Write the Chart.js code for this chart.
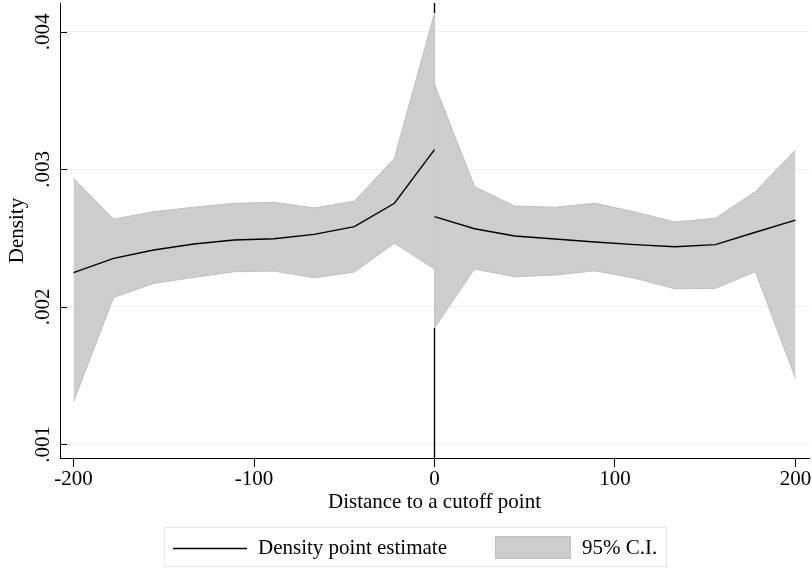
<!DOCTYPE html>
<html>
<head>
<meta charset="utf-8">
<script src="https://cdn.jsdelivr.net/npm/chart.js@4.4.0/dist/chart.umd.min.js"></script>
<style>
html, body { margin: 0; padding: 0; background: #fff; }
</style>
</head>
<body>
<canvas id="myChart" width="812" height="569"></canvas>
<script>
// data
var xLeft = [-200, -177.8, -155.6, -133.3, -111.1, -88.9, -66.7, -44.4, -22.2, 0];
var xRight = [0, 22.2, 44.4, 66.7, 88.9, 111.1, 133.3, 155.6, 177.8, 200];

var densLeft = [0.002248, 0.002352, 0.002413, 0.002457, 0.002486, 0.002495, 0.002527, 0.002583, 0.002753, 0.003143];
var upperLeft = [0.002935, 0.002637, 0.002692, 0.002724, 0.002753, 0.002760, 0.002719, 0.002768, 0.003081, 0.004137];
var lowerLeft = [0.001308, 0.002068, 0.002170, 0.002214, 0.002255, 0.002260, 0.002211, 0.002253, 0.002462, 0.002275];

var densRight = [0.002656, 0.002568, 0.002515, 0.002493, 0.002471, 0.002452, 0.002437, 0.002452, 0.002542, 0.002631];
var upperRight = [0.003620, 0.002874, 0.002733, 0.002724, 0.002753, 0.002690, 0.002617, 0.002644, 0.002838, 0.003141];
var lowerRight = [0.001847, 0.002275, 0.002218, 0.002231, 0.002262, 0.002207, 0.002131, 0.002134, 0.002255, 0.001479];

var xTicks = [-200, -100, 0, 100, 200];
var yTicks = [0.001, 0.002, 0.003, 0.004];

var X_MIN = -207.5, X_MAX = 207.5;
var Y_MIN = 0.0009, Y_MAX = 0.00421;

var FONT = "'Liberation Serif', 'Times New Roman', serif";
var FSIZE = 21;
var FILL = '#cdcdcd';
var EDGE = '#bfbfbf';

function pts(xs, ys) {
  var out = [];
  for (var i = 0; i < xs.length; i++) out.push({x: xs[i], y: ys[i]});
  return out;
}

// the cutoff line only shows where the band does not cover it
var bandLow = Math.min(lowerLeft[lowerLeft.length - 1], lowerRight[0]);
var bandHigh = Math.max(upperLeft[upperLeft.length - 1], upperRight[0]);

function lineSet(data, color, width) {
  return {
    data: data,
    borderColor: color,
    borderWidth: width,
    pointRadius: 0,
    fill: false,
    tension: 0
  };
}

var datasets = [
  lineSet(pts(xLeft, densLeft), '#000', 1.4),
  lineSet(pts(xRight, densRight), '#000', 1.4),
  lineSet(pts(xLeft, upperLeft), EDGE, 1),
  Object.assign(lineSet(pts(xLeft, lowerLeft), EDGE, 1), {fill: '-1', backgroundColor: FILL}),
  lineSet(pts(xRight, upperRight), EDGE, 1),
  Object.assign(lineSet(pts(xRight, lowerRight), EDGE, 1), {fill: '-1', backgroundColor: FILL}),
  lineSet([{x: 0, y: bandLow}, {x: 0, y: bandHigh}], EDGE, 1),
  lineSet([{x: 0, y: Y_MIN}, {x: 0, y: bandLow}], '#000', 1.4),
  lineSet([{x: 0, y: bandHigh}, {x: 0, y: Y_MAX}], '#000', 1.4)
];

// short ticks pointing into the plot on the y axis
var innerTicks = {
  id: 'innerTicks',
  afterDraw: function(chart) {
    var ctx = chart.ctx, y = chart.scales.y, a = chart.chartArea;
    ctx.save();
    ctx.strokeStyle = '#000';
    ctx.lineWidth = 1;
    yTicks.forEach(function(v) {
      var p = Math.round(y.getPixelForValue(v)) + 0.5;
      ctx.beginPath();
      ctx.moveTo(a.left, p);
      ctx.lineTo(a.left + 7, p);
      ctx.stroke();
    });
    ctx.restore();
  }
};

var boxLegend = {
  id: 'boxLegend',
  afterDraw: function(chart) {
    var ctx = chart.ctx;
    ctx.save();
    ctx.strokeStyle = '#e1e8eb';
    ctx.lineWidth = 1;
    ctx.strokeRect(164.5, 527.5, 502, 39);

    ctx.strokeStyle = '#000';
    ctx.lineWidth = 1.4;
    ctx.beginPath();
    ctx.moveTo(173, 548.5);
    ctx.lineTo(247, 548.5);
    ctx.stroke();

    ctx.fillStyle = FILL;
    ctx.fillRect(495.5, 536.5, 75, 22);
    ctx.strokeStyle = EDGE;
    ctx.lineWidth = 1;
    ctx.strokeRect(495.5, 536.5, 75, 22);

    ctx.fillStyle = '#000';
    ctx.font = FSIZE + 'px ' + FONT;
    ctx.textBaseline = 'middle';
    ctx.textAlign = 'left';
    ctx.fillText('Density point estimate', 258, 548);
    ctx.fillText('95% C.I.', 582, 548);
    ctx.restore();
  }
};

var ctx = document.getElementById('myChart');
var myChart = new Chart(ctx, {
  type: 'line',
  data: {datasets: datasets},
  plugins: [innerTicks, boxLegend],
  options: {
    responsive: false,
    animation: false,
    layout: {padding: {top: 3, right: 3, bottom: 50, left: 0}},
    plugins: {legend: {display: false}, tooltip: {enabled: false}},
    scales: {
      x: {
        type: 'linear',
        min: X_MIN,
        max: X_MAX,
        afterBuildTicks: function(s) { s.ticks = xTicks.map(function(v) { return {value: v}; }); },
        afterFit: function(s) { s.height = 61; s.paddingLeft = 0; s.paddingRight = 0; },
        grid: {drawOnChartArea: false, drawTicks: true, tickLength: 9, color: '#000'},
        border: {display: true, color: '#000', width: 1},
        ticks: {color: '#000', font: {family: FONT, size: FSIZE}, padding: 0, maxRotation: 0},
        title: {display: true, text: 'Distance to a cutoff point', color: '#000',
                font: {family: FONT, size: FSIZE}, padding: {top: 0, bottom: 4}}
      },
      y: {
        type: 'linear',
        min: Y_MIN,
        max: Y_MAX,
        afterBuildTicks: function(s) { s.ticks = yTicks.map(function(v) { return {value: v}; }); },
        afterFit: function(s) { s.width = 60; s.paddingTop = 0; s.paddingBottom = 0; },
        grid: {color: '#eaf0f3', drawTicks: false},
        border: {display: true, color: '#000', width: 1},
        ticks: {
          color: '#000',
          font: {family: FONT, size: FSIZE},
          minRotation: 90,
          maxRotation: 90,
          crossAlign: 'center',
          padding: -2,
          callback: function(v) { return v.toFixed(3).replace(/^0/, ''); }
        },
        title: {display: true, text: 'Density', color: '#000',
                font: {family: FONT, size: FSIZE}, padding: {top: 5, bottom: 0}}
      }
    }
  }
});
console.log(myChart);
</script>
</body>
</html>
